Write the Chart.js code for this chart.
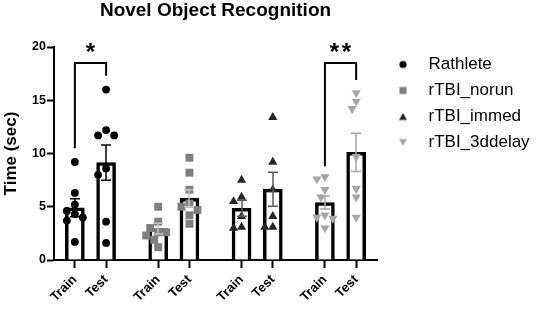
<!DOCTYPE html>
<html><head><meta charset="utf-8">
<script src="https://cdn.jsdelivr.net/npm/chart.js@4/dist/chart.umd.min.js"></script>
<style>html,body{margin:0;padding:0;background:#fff}</style>
</head><body>
<canvas id="c" width="536" height="311"></canvas>
<script>
// ---- data ----
const chartTitle = 'Novel Object Recognition';
const yTitle = 'Time (sec)';
const chartGroups = ['Rathlete', 'rTBI_norun', 'rTBI_immed', 'rTBI_3ddelay'];
const phaseLabels = ['Train', 'Test'];
const yTicks = [0, 5, 10, 15, 20];

const rathleteTrain = [9.2, 6.3, 5.2, 4.6, 4.3, 4.0, 3.7, 1.7];
const rathleteTest  = [16.0, 12.2, 11.7, 11.7, 8.6, 8.0, 3.6, 1.6];
const norunTrain    = [5.0, 3.6, 3.0, 2.6, 2.6, 2.3, 1.9, 1.2];
const norunTest     = [9.6, 8.2, 6.6, 5.3, 5.0, 4.7, 4.2, 3.4];
const immedTrain    = [7.5, 5.9, 5.5, 4.1, 3.1, 3.0];
const immedTest     = [13.4, 9.2, 6.6, 4.1, 3.1, 3.1];
const delayTrain    = [7.8, 7.6, 6.6, 5.9, 4.2, 4.0, 3.9, 3.0];
const delayTest     = [15.7, 14.9, 14.2, 9.7, 6.7, 5.9, 4.0];

// bar means and SEM, order: group0 Train, group0 Test, group1 Train, ...
const barMeans = [4.9, 9.15, 2.95, 5.8, 4.85, 6.65, 5.4, 10.1];
const barSems  = [0.85, 1.65, 0.5, 0.8, 0.75, 1.6, 0.6, 1.8];

// significance brackets
const sigLabels   = ['*', '**'];
const sigGroup    = [0, 3];
const sigLeftLow  = [10.5, 8.8];
const sigRightLow = [17.3, 16.9];
const sigTop      = [18.5, 18.5];

const groupPoints = [
  [rathleteTrain, rathleteTest],
  [norunTrain, norunTest],
  [immedTrain, immedTest],
  [delayTrain, delayTest]
];

// ---- layout / style constants ----
const GROUP_STEP = 8, PHASE_STEP = 3;
const pos = (g, p) => g * GROUP_STEP + p * PHASE_STEP;
const FONT = "'Liberation Sans', Arial, sans-serif";
const pointColors = ['#000000', '#7f7f7f', '#262626', '#a6a6a6'];
const pointStyles = ['circle', 'rect', 'triangle', 'triangle'];
const pointRots   = [0, 0, 0, 180];
const pointRadii  = [3.9, 5.6, 5.3, 5.3];
const errColors   = ['#000000', '#c4c4c4', '#5a5a5a', '#a6a6a6'];

Chart.defaults.font.family = FONT;
Chart.defaults.color = '#000';

function markerCanvas(g) {
  const c = document.createElement('canvas');
  c.width = 10; c.height = 10;
  const k = c.getContext('2d');
  k.fillStyle = pointColors[g];
  k.beginPath();
  if (g === 0) k.arc(5, 5, 3.6, 0, Math.PI * 2);
  else if (g === 1) k.rect(1.5, 1.5, 7, 7);
  else if (g === 2) { k.moveTo(5, 1.5); k.lineTo(9, 8.5); k.lineTo(1, 8.5); k.closePath(); }
  else { k.moveTo(1, 1.5); k.lineTo(9, 1.5); k.lineTo(5, 8.5); k.closePath(); }
  k.fill();
  return c;
}
const legendMarkers = chartGroups.map((_, g) => markerCanvas(g));

const datasets = chartGroups.map((name, g) => ({
  type: 'line', label: name, showLine: false, order: 1,
  data: [0, 1].flatMap(p => groupPoints[g][p].map(v => ({ x: pos(g, p), y: v }))),
  pointStyle: pointStyles[g], pointRotation: pointRots[g],
  pointRadius: pointRadii[g], pointHoverRadius: pointRadii[g],
  pointBackgroundColor: pointColors[g], pointBorderColor: pointColors[g], pointBorderWidth: 0,
  backgroundColor: pointColors[g], borderColor: pointColors[g]
}));

datasets.push({
  type: 'bar', label: 'mean', order: 10,
  data: barMeans.map((m, i) => ({ x: pos(Math.floor(i / 2), i % 2), y: m })),
  backgroundColor: '#ffffff', borderColor: '#000000', borderWidth: 3.5,
  barThickness: 19, borderSkipped: 'start'
});

sigLabels.forEach((s, k) => {
  const g = sigGroup[k];
  datasets.push({
    type: 'line', label: 'sig' + k, order: 0,
    data: [
      { x: pos(g, 0), y: sigLeftLow[k] }, { x: pos(g, 0), y: sigTop[k] },
      { x: pos(g, 1), y: sigTop[k] }, { x: pos(g, 1), y: sigRightLow[k] }
    ],
    borderColor: '#000', borderWidth: 2, pointRadius: 0, pointHoverRadius: 0,
    tension: 0, fill: false, borderJoinStyle: 'miter', borderCapStyle: 'butt'
  });
});

const tickPositions = [];
const tickNames = {};
chartGroups.forEach((_, g) => phaseLabels.forEach((lab, p) => { tickPositions.push(pos(g, p)); tickNames[pos(g, p)] = lab; }));

const errorBars = {
  id: 'errorBars',
  afterDatasetsDraw(chart) {
    const { ctx, scales: { x, y } } = chart;
    ctx.save();
    ctx.lineWidth = 1.5;
    barMeans.forEach((m, i) => {
      const g = Math.floor(i / 2), p = i % 2;
      const px = Math.round(x.getPixelForValue(pos(g, p)));
      const t = y.getPixelForValue(m + barSems[i]);
      const b = y.getPixelForValue(m - barSems[i]);
      ctx.strokeStyle = errColors[g];
      ctx.beginPath();
      ctx.moveTo(px, t); ctx.lineTo(px, b);
      ctx.moveTo(px - 5, t); ctx.lineTo(px + 5, t);
      ctx.moveTo(px - 5, b); ctx.lineTo(px + 5, b);
      ctx.stroke();
    });
    ctx.restore();
  }
};

const sigStars = {
  id: 'sigStars',
  afterDatasetsDraw(chart) {
    const { ctx, scales: { x, y } } = chart;
    ctx.save();
    ctx.font = 'bold 24px ' + FONT;
    ctx.fillStyle = '#000';
    ctx.textAlign = 'center';
    ctx.textBaseline = 'alphabetic';
    sigLabels.forEach((s, k) => {
      const g = sigGroup[k];
      const cx = (x.getPixelForValue(pos(g, 0)) + x.getPixelForValue(pos(g, 1))) / 2;
      const by = y.getPixelForValue(sigTop[k]) - 3;
      const n = s.length, gap = 12;
      for (let j = 0; j < n; j++) ctx.fillText(s[j], cx + (j - (n - 1) / 2) * gap, by);
    });
    ctx.restore();
  }
};

const chart = new Chart(document.getElementById('c'), {
  type: 'bar',
  data: { datasets },
  options: {
    responsive: false, animation: false, devicePixelRatio: 1,
    layout: { padding: { left: 0, right: 0, top: 0, bottom: 0 } },
    plugins: {
      tooltip: { enabled: false },
      title: {
        display: true, text: chartTitle, fullSize: false, color: '#000',
        font: { size: 19, weight: 'bold', family: FONT, lineHeight: 1.1 },
        padding: { top: 0, bottom: 26.1 }
      },
      legend: {
        position: 'right', align: 'start', fullSize: false, maxWidth: 159,
        labels: {
          usePointStyle: true, pointStyleWidth: 34, boxHeight: 10, padding: 9,
          color: '#000', font: { size: 17, family: FONT },
          filter: item => item.datasetIndex < chartGroups.length,
          generateLabels(ch) {
            const items = Chart.defaults.plugins.legend.labels.generateLabels(ch);
            items.forEach(it => {
              if (it.datasetIndex < chartGroups.length) {
                it.pointStyle = legendMarkers[it.datasetIndex];
                it.rotation = 0;
              }
            });
            return items;
          }
        }
      }
    },
    scales: {
      x: {
        type: 'linear', min: -2, max: 29, offset: false,
        afterBuildTicks(s) { s.ticks = tickPositions.map(v => ({ value: v })); },
        afterFit(s) { s.height = 51; },
        ticks: {
          autoSkip: false, minRotation: 45, maxRotation: 45, padding: 4,
          color: '#000', font: { size: 13, weight: 'bold', family: FONT },
          callback: v => tickNames[v] || ''
        },
        grid: { display: true, drawOnChartArea: false, drawTicks: true, tickLength: 8, tickWidth: 2, tickColor: '#000', offset: false },
        border: { display: true, color: '#000', width: 2 }
      },
      y: {
        min: 0, max: 20,
        afterBuildTicks(s) { s.ticks = yTicks.map(v => ({ value: v })); },
        afterFit(s) { s.width = 54; },
        ticks: { padding: 1, color: '#000', font: { size: 12.5, weight: 'bold', family: FONT } },
        grid: { display: true, drawOnChartArea: false, drawTicks: true, tickLength: 7, tickWidth: 2, tickColor: '#000' },
        border: { display: true, color: '#000', width: 2 },
        title: { display: true, text: yTitle, color: '#000', padding: { top: 1, bottom: 0 }, font: { size: 17, weight: 'bold', family: FONT } }
      }
    }
  },
  plugins: [errorBars, sigStars]
});

// spread overlapping points horizontally (beeswarm), computed through the chart's scales
(function applySwarm() {
  const xs = chart.scales.x, ys = chart.scales.y;
  const D = 8;
  chartGroups.forEach((_, g) => {
    const out = [];
    [0, 1].forEach(p => {
      const cx = xs.getPixelForValue(pos(g, p));
      const vals = groupPoints[g][p].slice().sort((a, b) => b - a);
      const placed = [];
      vals.forEach(v => {
        const py = ys.getPixelForValue(v);
        let best = cx;
        for (const k of [0, -0.5, 0.5, -1, 1, -1.5, 1.5, -2, 2]) {
          const px = cx + k * D;
          if (placed.every(q => Math.hypot(q[0] - px, q[1] - py) >= D * 0.95)) { best = px; break; }
        }
        placed.push([best, py]);
        out.push({ x: xs.getValueForPixel(best), y: v });
      });
    });
    chart.data.datasets[g].data = out;
  });
  chart.update('none');
})();
</script>
</body></html>
